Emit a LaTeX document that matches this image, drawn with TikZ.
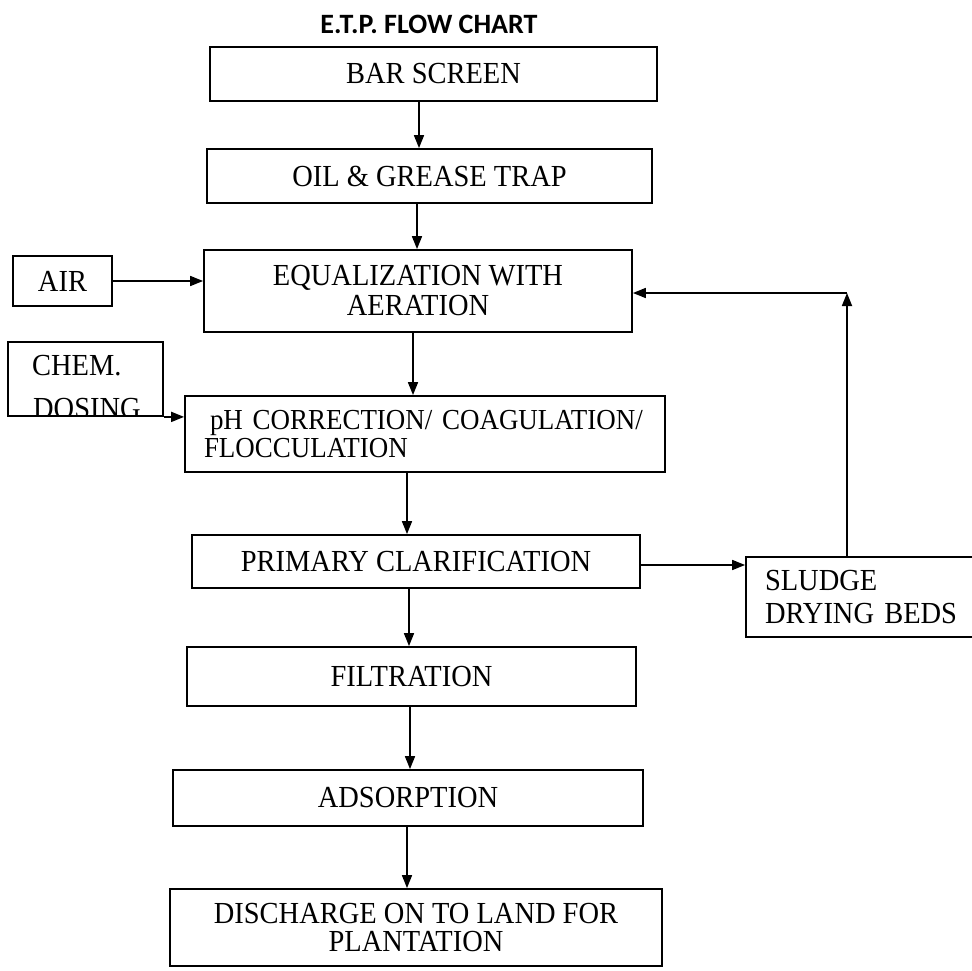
\documentclass[tikz,border=0pt]{standalone}
\usepackage{fontspec}
\setmainfont{Liberation Serif}[FakeStretch=0.93]
\newfontfamily\titlefont{Carlito}
\usetikzlibrary{arrows.meta}
\begin{document}
\begin{tikzpicture}[x=1pt,y=-1pt,
  box/.style={draw, line width=1.8pt, inner sep=0pt, font=\fontsize{30.6}{30}\selectfont, align=center},
  arr/.style={line width=1.7pt, -{Triangle[length=13pt,width=10pt]}},
  txt/.style={inner sep=0pt, font=\fontsize{30.6}{30}\selectfont}]
\useasboundingbox (0,0) rectangle (972,971);

\node[inner sep=0pt, font={\titlefont\fontsize{28}{30}\selectfont\bfseries}] (title) at (429,24) {E.T.P. FLOW CHART};

\node[box, minimum width=447pt, minimum height=54pt] (bar) at (433.5,74) {BAR SCREEN};
\node[box, minimum width=445pt, minimum height=54pt] (oil) at (429.5,176) {OIL \& GREASE TRAP};
\node[box, minimum width=428pt, minimum height=82pt] (eq) at (418,291) {EQUALIZATION WITH\\AERATION};
\node[box, minimum width=99pt, minimum height=50pt] (air) at (62.5,281) {AIR};

% chemical dosing box with clipped text
\begin{scope}
  \clip (8,342) rectangle (163,415);
  \node[txt, anchor=base west] (chemA) at (32,375) {CHEM.};
  \node[txt, anchor=base west] (chemB) at (33,418) {DOSING};
\end{scope}
\node[draw, line width=1.8pt, inner sep=0pt, minimum width=155pt, minimum height=74pt] (chem) at (85.5,379) {};

\node[box, minimum width=480pt, minimum height=76pt, align=left, text width=442pt,
      font=\fontsize{29}{28}\selectfont] (ph) at (425,434)
      {\hspace*{6pt}pH CORRECTION/ COAGULATION/\\FLOCCULATION};
\node[box, minimum width=448pt, minimum height=53pt] (prim) at (416,561.5) {PRIMARY CLARIFICATION};
\node[box, minimum width=234pt, minimum height=80pt, align=left, text width=196pt,
      font=\fontsize{30.6}{33}\selectfont] (sludge) at (863,597) {SLUDGE\\DRYING BEDS};
\node[box, minimum width=449pt, minimum height=59pt] (filt) at (411.5,676.5) {FILTRATION};
\node[box, minimum width=470pt, minimum height=56pt] (ads) at (408,798) {ADSORPTION};
\node[box, minimum width=492pt, minimum height=77pt, font=\fontsize{30.6}{28}\selectfont] (dis) at (416,927.5)
      {DISCHARGE ON TO LAND FOR\\PLANTATION};

% main vertical flow
\coordinate (a1) at ([xshift=-14.5pt]bar.south);
\draw[arr] (a1) -- (a1 |- oil.north);
\coordinate (a2) at ([xshift=-12.5pt]oil.south);
\draw[arr] (a2) -- (a2 |- eq.north);
\coordinate (a3) at ([xshift=-5pt]eq.south);
\draw[arr] (a3) -- (a3 |- ph.north);
\coordinate (a4) at ([xshift=-18pt]ph.south);
\draw[arr] (a4) -- (a4 |- prim.north);
\coordinate (a5) at ([xshift=-7pt]prim.south);
\draw[arr] (a5) -- (a5 |- filt.north);
\coordinate (a6) at ([xshift=-1.5pt]filt.south);
\draw[arr] (a6) -- (a6 |- ads.north);
\coordinate (a7) at ([xshift=-1pt]ads.south);
\draw[arr] (a7) -- (a7 |- dis.north);

% side inputs
\draw[arr] (air.east) -- (air.east -| eq.west);
\coordinate (c2) at (chem.south east);
\draw[arr] (c2) -- (c2 -| ph.west);

% sludge loop
\coordinate (c3) at ([yshift=-3.5pt]prim.east);
\draw[arr] (c3) -- (c3 -| sludge.west);
\coordinate (c4) at ([xshift=-16pt]sludge.north);
\coordinate (corner) at ([yshift=-2pt]c4 |- eq.center);
\draw[arr] (c4) -- (corner);
\draw[arr] (corner) -- (corner -| eq.east);
\end{tikzpicture}
\end{document}
